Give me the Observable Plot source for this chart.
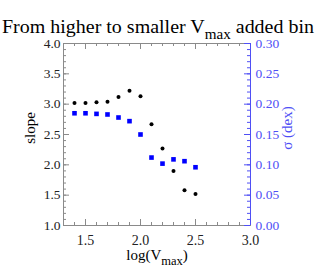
<!DOCTYPE html>
<html><head><meta charset="utf-8">
<script src="https://cdn.jsdelivr.net/npm/d3@7"></script>
<script src="https://cdn.jsdelivr.net/npm/@observablehq/plot@0.6"></script>
<style>body{margin:0;background:#fff} #c{width:316px;height:267px}</style>
</head><body><div id="c"></div>
<script>
// data
const logV = [1.4, 1.5, 1.6, 1.7, 1.8, 1.9, 2.0, 2.1, 2.2, 2.3, 2.4, 2.5];
const slope = [3.02, 3.02, 3.03, 3.04, 3.12, 3.22, 3.13, 2.67, 2.27, 1.90, 1.58, 1.52];
const sigma = [0.185, 0.185, 0.184, 0.183, 0.178, 0.172, 0.150, 0.112, 0.102, 0.109, 0.106, 0.096];
const slopeTicks = [1.0, 1.5, 2.0, 2.5, 3.0, 3.5, 4.0];
const sigmaTicks = [0.00, 0.05, 0.10, 0.15, 0.20, 0.25, 0.30];
const xTicks = [1.5, 2.0, 2.5, 3.0];

const minorY = d3.range(10, 41).map(d => d / 10);
const minorX = d3.range(13, 31).map(d => d / 10);
const W = 316 - 63 - 66, H = 267 - 43 - 42;
const blue = "#0000ff", axisBlue = "#4f4ff5", gray = "#8a8a8a";
const toSlope = s => 1 + s * 10;
const data = logV.map((x, i) => ({x, slope: slope[i], sig: toSlope(sigma[i])}));

const chart = Plot.plot({
  width: 316, height: 267,
  marginLeft: 63, marginRight: 66, marginTop: 43, marginBottom: 42,
  x: {domain: [1.3, 3.0]},
  y: {domain: [1, 4]},
  style: {fontFamily: "'Liberation Serif', serif", fontSize: "13px", background: "#fff"},
  marks: [
    Plot.frame({stroke: gray}),
    Plot.tickY(minorY, {y: d => d, stroke: gray, insetRight: W - 3}),
    Plot.tickY(slopeTicks, {y: d => d, stroke: gray, insetRight: W - 6}),
    Plot.tickY(minorY, {y: d => d, stroke: axisBlue, insetLeft: W - 3}),
    Plot.tickY(sigmaTicks.map(toSlope), {y: d => d, stroke: axisBlue, insetLeft: W - 6}),
    Plot.tickX(minorX, {x: d => d, stroke: gray, insetTop: H - 3}),
    Plot.tickX(xTicks, {x: d => d, stroke: gray, insetTop: H - 6}),
    Plot.tickX(minorX, {x: d => d, stroke: gray, insetBottom: H - 3}),
    Plot.tickX(xTicks, {x: d => d, stroke: gray, insetBottom: H - 6}),
    Plot.ruleX([3.0], {stroke: axisBlue}),
    Plot.axisY(slopeTicks, {anchor: "left", tickSize: 0, tickPadding: 3, tickFormat: d => d.toFixed(1), label: null, color: "#222", fontSize: 13.5}),
    Plot.axisY(sigmaTicks.map(toSlope), {anchor: "right", tickSize: 0, tickPadding: 5, tickFormat: d => ((d - 1) / 10).toFixed(2), label: null, color: axisBlue, fontSize: 13.5}),
    Plot.axisX(xTicks, {anchor: "bottom", tickSize: 0, tickPadding: 10, tickFormat: d => d.toFixed(1), label: null, color: "#222", fontSize: 14}),
    Plot.dot(data, {x: "x", y: "slope", r: 2, fill: "black"}),
    Plot.dot(data, {x: "x", y: "sig", symbol: "square", r: 2.6, fill: blue})
  ]
});
document.getElementById("c").appendChild(chart);

const svg = d3.select(chart);
const font = "'Liberation Serif', serif";
const title = svg.append("text").attr("x", 2).attr("y", 33).attr("text-anchor", "start")
  .attr("font-family", font).attr("font-size", 18.5).attr("fill", "#000").style("white-space", "pre")
  .attr("textLength", 312).attr("lengthAdjust", "spacingAndGlyphs");
title.append("tspan").text("From higher to smaller V");
title.append("tspan").attr("dy", 6).attr("font-size", 14).text("max");
title.append("tspan").attr("dy", -6).text(" added bin");

const xl = svg.append("text").attr("x", 157).attr("y", 260).attr("text-anchor", "middle")
  .attr("font-family", font).attr("font-size", 15).attr("fill", "#000").style("white-space", "pre");
xl.append("tspan").text("log(V");
xl.append("tspan").attr("dy", 5).attr("font-size", 12.5).text("max");
xl.append("tspan").attr("dy", -5).text(")");

svg.append("text").attr("transform", "translate(35,128) rotate(-90)").attr("text-anchor", "middle")
  .attr("font-family", font).attr("font-size", 15).attr("fill", "#000").text("slope");
svg.append("text").attr("transform", "translate(292,128) rotate(-90)").attr("text-anchor", "middle")
  .attr("font-family", font).attr("font-size", 15).attr("fill", axisBlue).text("σ (dex)");
</script>
</body></html>
